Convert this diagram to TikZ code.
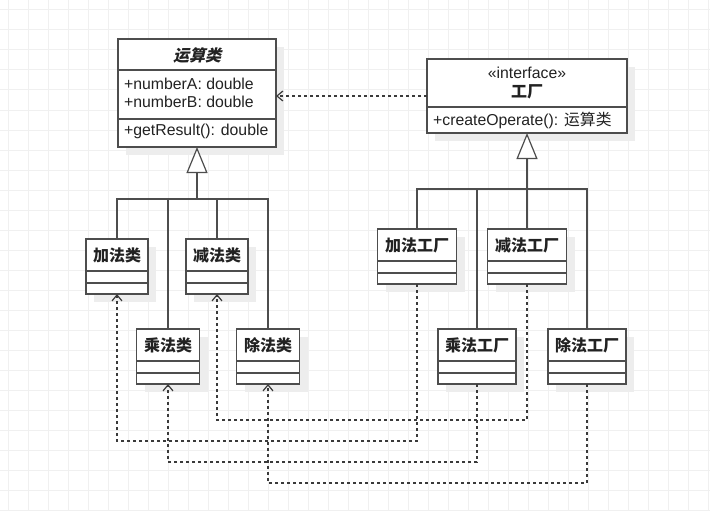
\documentclass[tikz,border=0pt]{standalone}
\usepackage{fontspec}
\setmainfont{Liberation Sans}
\newfontfamily\cjk{Noto Sans CJK SC}
\newfontfamily\cjkslant{Noto Sans CJK SC}[FakeSlant=0.25]
\usetikzlibrary{arrows.meta,shadows}

\definecolor{gridgray}{HTML}{F0F0F0}
\definecolor{boxline}{HTML}{4D4D4D}
\definecolor{shadowgray}{HTML}{EDEDED}
\definecolor{depgray}{HTML}{3A3A3A}
\definecolor{textdark}{HTML}{222222}

\tikzset{
	cls/.style={draw=boxline, line width=1.2pt, fill=white, inner sep=0pt, outer sep=0pt,
		drop shadow={shadow xshift=8pt, shadow yshift=-8pt, fill=shadowgray, opacity=1}},
	clsline/.style={draw=boxline, line width=1.2pt},
	attr/.style={inner sep=0pt, text=textdark, font=\fontsize{15.8pt}{18pt}\selectfont},
	cjktitle/.style={inner sep=0pt, text=textdark, font=\fontsize{16pt}{18pt}\cjk\bfseries},
	genline/.style={draw=boxline, line width=1.2pt},
	dep/.style={draw=depgray, line width=1.2pt, dash pattern=on 3pt off 3pt,
		-{Straight Barb[length=6pt, width=10pt]}}
}

\begin{document}
\begin{tikzpicture}[x=1pt, y=-1pt]
	\useasboundingbox (0,0) rectangle (710,511);
	\fill[white] (0,0) rectangle (710,511);
	\draw[step=20pt, gridgray, line width=1pt, shift={(8,10)}] (-8,-10) grid (702,501);

	\node[cls, minimum width=158pt, minimum height=108pt] (ysl) at (197,93) {};
	\node[cls, minimum width=200pt, minimum height=74pt] (gc) at (527,96) {};

	\node[cls, minimum width=62pt, minimum height=55pt] (jia) at (117,266.5) {};
	\node[cls, minimum width=62pt, minimum height=55pt] (jian) at (217,266.5) {};
	\node[cls, minimum width=63pt, minimum height=55pt] (cheng) at (168,356.5) {};
	\node[cls, minimum width=63pt, minimum height=55pt] (chu) at (268,356.5) {};

	\node[cls, minimum width=79pt, minimum height=55pt] (jiaF) at (417,256.5) {};
	\node[cls, minimum width=79pt, minimum height=55pt] (jianF) at (527,256.5) {};
	\node[cls, minimum width=78pt, minimum height=55pt] (chengF) at (477,356.5) {};
	\node[cls, minimum width=78pt, minimum height=55pt] (chuF) at (587,356.5) {};

	\draw[clsline] ([yshift=-31pt]ysl.north west) -- ([yshift=-31pt]ysl.north east);
	\draw[clsline] ([yshift=-80pt]ysl.north west) -- ([yshift=-80pt]ysl.north east);
	\draw[clsline] ([yshift=-48pt]gc.north west) -- ([yshift=-48pt]gc.north east);
	\foreach \n in {jia,jian,cheng,chu,jiaF,jianF,chengF,chuF} {
		\draw[clsline] ([yshift=-32pt]\n.north west) -- ([yshift=-32pt]\n.north east);
		\draw[clsline] ([yshift=-44pt]\n.north west) -- ([yshift=-44pt]\n.north east);
	}

	\node[cjktitle, font=\fontsize{16pt}{18pt}\cjkslant\bfseries] (yslT) at (197,55) {运算类};
	\node[attr, anchor=west] (yslA) at (124,84) {+numberA: double};
	\node[attr, anchor=west] (yslB) at (124,102) {+numberB: double};
	\node[attr, anchor=west] (yslM) at (124,131) {+getResult(): double};

	\node[attr] (gcS) at (527,73) {«interface»};
	\node[cjktitle] (gcT) at (527,92) {工厂};
	\node[attr, anchor=west] (gcM) at (433,120) {+createOperate(): {\cjk 运算类}};

	\node[cjktitle] (jiaT) at ([yshift=-16pt]jia.north) {加法类};
	\node[cjktitle] (jianT) at ([yshift=-16pt]jian.north) {减法类};
	\node[cjktitle] (chengT) at ([yshift=-16pt]cheng.north) {乘法类};
	\node[cjktitle] (chuT) at ([yshift=-16pt]chu.north) {除法类};
	\node[cjktitle] (jiaFT) at ([yshift=-16pt]jiaF.north) {加法工厂};
	\node[cjktitle] (jianFT) at ([yshift=-16pt]jianF.north) {减法工厂};
	\node[cjktitle] (chengFT) at ([yshift=-16pt]chengF.north) {乘法工厂};
	\node[cjktitle] (chuFT) at ([yshift=-16pt]chuF.north) {除法工厂};

	\coordinate (busL) at (197,199);
	\draw[genline] (jia.north) |- (busL);
	\draw[genline] (jian.north) |- (busL);
	\draw[genline] (cheng.north) |- (busL);
	\draw[genline] (chu.north) |- (busL);
	\draw[genline, line width=2pt, -{Triangle[length=26pt, width=21pt, line width=1.2pt, fill=white]}] (busL) -- (ysl.south);

	\coordinate (busR) at (527,189);
	\draw[genline] (jiaF.north) |- (busR);
	\draw[genline] (jianF.north) |- (busR);
	\draw[genline] (chengF.north) |- (busR);
	\draw[genline] (chuF.north) |- (busR);
	\draw[genline, line width=2pt, -{Triangle[length=26pt, width=21pt, line width=1.2pt, fill=white]}] (busR) -- (gc.south);

	\draw[dep] (gc.west) -- (gc.west -| ysl.east);

	\draw[dep] (jiaF.south) -- ++(0,157) -| (jia.south);
	\draw[dep] (jianF.south) -- ++(0,136) -| (jian.south);
	\draw[dep] (chengF.south) -- ++(0,78) -| (cheng.south);
	\draw[dep] (chuF.south) -- ++(0,99) -| (chu.south);
\end{tikzpicture}
\end{document}
